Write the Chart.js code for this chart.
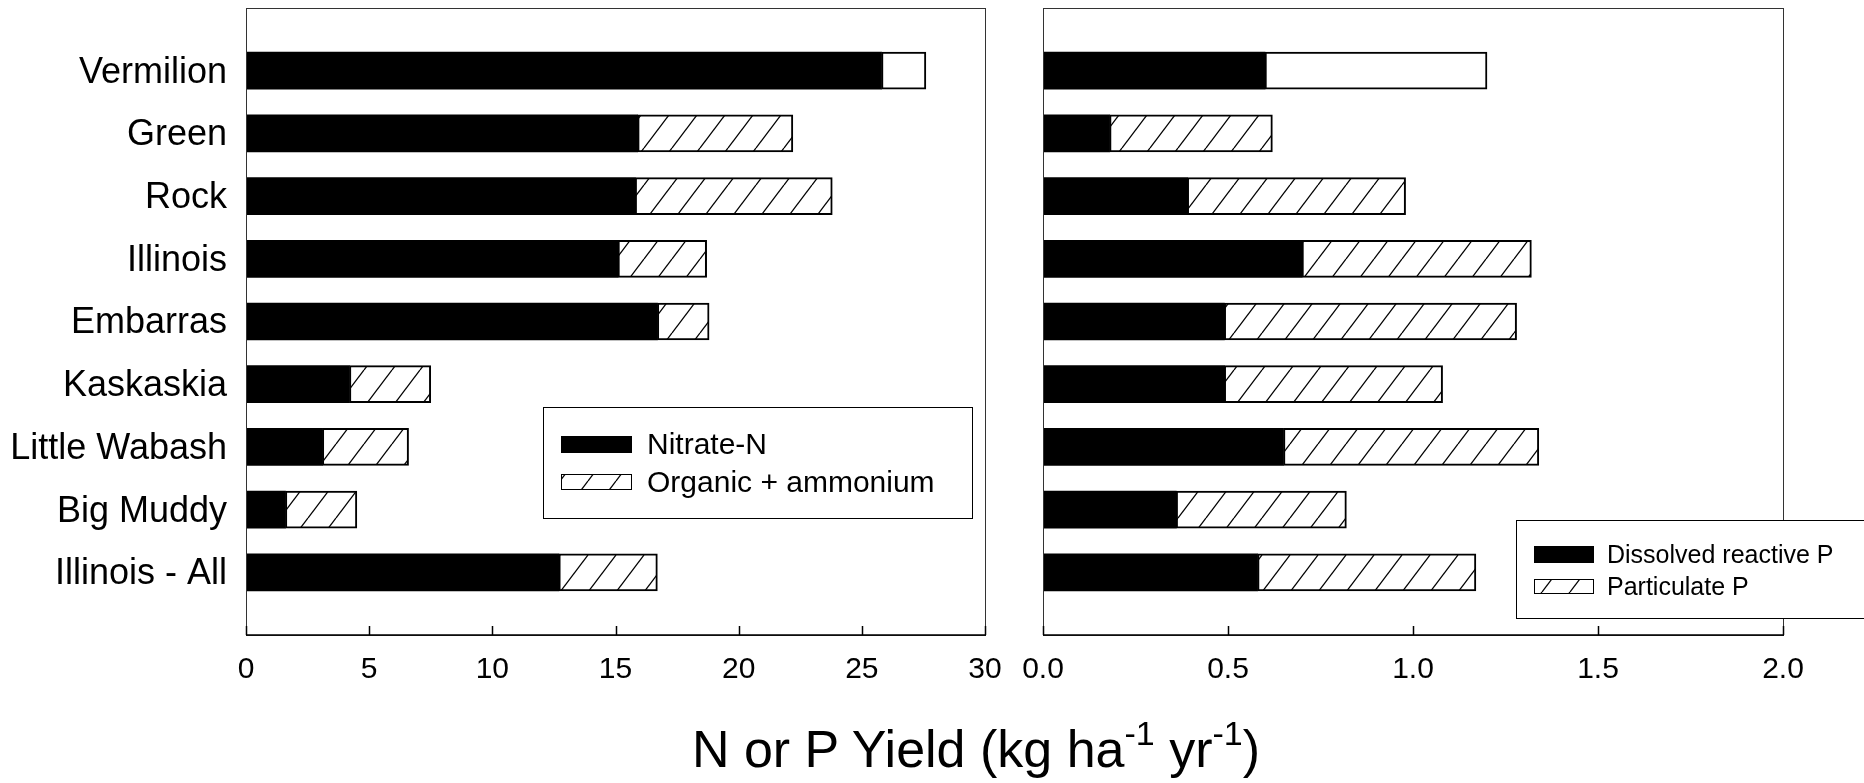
<!DOCTYPE html>
<html>
<head>
<meta charset="utf-8">
<script src="https://cdn.jsdelivr.net/npm/chart.js@4"></script>
<style>
    body { margin: 0; background: #fff; }
    #wrap { position: relative; width: 1864px; height: 783px; overflow: hidden; }
    #leftBox { position: absolute; left: 0; top: 0; width: 1010px; height: 783px; }
    #rightBox { position: absolute; left: 1010px; top: 0; width: 854px; height: 783px; }
    #title {
        position: absolute; left: 0; width: 1952px; top: 719px; text-align: center;
        font-family: "Liberation Sans", Arial, sans-serif; font-size: 52px; color: #000; white-space: nowrap;
    }
    #title sup { font-size: 34px; vertical-align: 0; position: relative; top: -22px; }
</style>
</head>
<body>
<div id="wrap">
    <div id="leftBox"><canvas id="chartN"></canvas></div>
    <div id="rightBox"><canvas id="chartP"></canvas></div>
    <div id="title">N or P Yield (kg ha<sup>-1</sup> yr<sup>-1</sup>)</div>
</div>
<script>
// Data
const categories = ['Vermilion', 'Green', 'Rock', 'Illinois', 'Embarras', 'Kaskaskia', 'Little Wabash', 'Big Muddy', 'Illinois - All'];
const nitrateN = [25.8, 15.9, 15.8, 15.1, 16.7, 4.2, 3.1, 1.6, 12.7];
const organicAmmonium = [1.8, 6.3, 8.0, 3.6, 2.1, 3.3, 3.5, 2.9, 4.0];
const dissolvedP = [0.60, 0.18, 0.39, 0.70, 0.49, 0.49, 0.65, 0.36, 0.58];
const particulateP = [0.60, 0.44, 0.59, 0.62, 0.79, 0.59, 0.69, 0.46, 0.59];
const nTicks = [0, 5, 10, 15, 20, 25, 30];
const pTicks = [0, 0.5, 1.0, 1.5, 2.0];

const FONT = '"Liberation Sans", Arial, sans-serif';

// blank slot above and below so the bars sit like in the original
const labels = [''].concat(categories, ['']);
function pad(arr) { return [null].concat(arr, [null]); }

// hatch tile "/"
const tile = document.createElement('canvas');
tile.width = 28;
tile.height = 37;
(function() {
    const g = tile.getContext('2d');
    g.fillStyle = '#fff';
    g.fillRect(0, 0, 28, 37);
    g.strokeStyle = '#000';
    g.lineWidth = 1.3;
    [-28, 0, 28].forEach(o => {
        g.beginPath();
        g.moveTo(o, 37);
        g.lineTo(o + 28, 0);
        g.stroke();
    });
})();

function hatchFor(chart) {
    if (!chart.$hatch) chart.$hatch = chart.ctx.createPattern(tile, 'repeat');
    return chart.$hatch;
}

function noPad(s) {
    s.paddingLeft = 0;
    s.paddingRight = 0;
    s.paddingTop = 0;
    s.paddingBottom = 0;
}

// frame, inward ticks and boxed legend
const framePlugin = {
    id: 'frame',
    afterDraw(chart, args, opts) {
        const ctx = chart.ctx;
        const a = chart.chartArea;
        const xs = chart.scales.x;
        ctx.save();
        ctx.strokeStyle = '#333';
        ctx.lineWidth = 1;
        ctx.strokeRect(a.left + 0.5, a.top + 0.5, a.right - a.left, a.bottom - a.top);
        ctx.strokeStyle = '#000';
        ctx.lineWidth = 1.5;
        ctx.beginPath();
        ctx.moveTo(a.left, a.bottom);
        ctx.lineTo(a.right + 1, a.bottom);
        xs.ticks.forEach(t => {
            const x = Math.round(xs.getPixelForValue(t.value)) + 0.5;
            ctx.moveTo(x, a.bottom);
            ctx.lineTo(x, a.bottom - 9);
        });
        ctx.stroke();

        // legend
        const L = opts.legend;
        ctx.fillStyle = '#fff';
        ctx.fillRect(L.x, L.y, L.w, L.h);
        ctx.strokeStyle = '#000';
        ctx.lineWidth = 1;
        ctx.strokeRect(L.x + 0.5, L.y + 0.5, L.w, L.h);
        ctx.font = L.font + 'px ' + FONT;
        ctx.textBaseline = 'alphabetic';
        chart.data.datasets.forEach((ds, i) => {
            const sw = L.swatches[i];
            ctx.fillStyle = i === 0 ? '#000' : hatchFor(chart);
            ctx.fillRect(L.x + L.sx, L.y + sw[0], L.sw, sw[1]);
            ctx.strokeStyle = '#000';
            ctx.strokeRect(L.x + L.sx + 0.5, L.y + sw[0] + 0.5, L.sw, sw[1]);
            ctx.fillStyle = '#000';
            ctx.fillText(ds.label, L.x + L.tx, L.y + L.baselines[i]);
        });
        ctx.restore();
    }
};

function makeChart(id, names, first, second, ticks, fmt, opts) {
    return new Chart(document.getElementById(id), {
        type: 'bar',
        data: {
            labels: labels,
            datasets: [{
                label: names[0],
                data: pad(first),
                backgroundColor: '#000',
                borderColor: '#000',
                borderWidth: 0,
                barThickness: 37
            }, {
                label: names[1],
                data: pad(second),
                backgroundColor: ctx => ctx.index === 1 ? '#fff' : hatchFor(ctx.chart),
                borderColor: '#000',
                borderWidth: 2,
                borderSkipped: false,
                barThickness: 37
            }]
        },
        options: {
            indexAxis: 'y',
            responsive: false,
            animation: false,
            events: [],
            layout: { padding: opts.padding },
            plugins: {
                legend: { display: false },
                tooltip: { enabled: false },
                frame: { legend: opts.legend }
            },
            scales: {
                x: {
                    type: 'linear',
                    stacked: true,
                    min: ticks[0],
                    max: ticks[ticks.length - 1],
                    afterBuildTicks: s => { s.ticks = ticks.map(v => ({ value: v })); },
                    afterFit: s => { s.height = 148; noPad(s); },
                    grid: { display: false, drawTicks: false },
                    border: { display: false },
                    ticks: {
                        color: '#000',
                        font: { family: FONT, size: 30 },
                        padding: 17,
                        maxRotation: 0,
                        autoSkip: false,
                        callback: v => fmt(v)
                    }
                },
                y: {
                    stacked: true,
                    offset: false,
                    display: opts.showY,
                    afterFit: s => { s.width = opts.yWidth; noPad(s); },
                    grid: { display: false, drawTicks: false },
                    border: { display: false },
                    ticks: {
                        color: '#000',
                        font: { family: FONT, size: 36 },
                        padding: 19,
                        labelOffset: 2,
                        autoSkip: false
                    }
                }
            }
        },
        plugins: [framePlugin]
    });
}

const cN = document.getElementById('chartN');
cN.width = 1010; cN.height = 783;
const cP = document.getElementById('chartP');
cP.width = 854; cP.height = 783;

makeChart('chartN', ['Nitrate-N', 'Organic + ammonium'], nitrateN, organicAmmonium, nTicks, v => String(v), {
    padding: { left: 0, right: 25, top: 8, bottom: 0 },
    showY: true,
    yWidth: 246,
    legend: { x: 543, y: 407, w: 429, h: 111, sx: 18, sw: 70, tx: 104, font: 30,
              swatches: [[29, 16], [67, 15]], baselines: [47, 85] }
});

makeChart('chartP', ['Dissolved reactive P', 'Particulate P'], dissolvedP, particulateP, pTicks, v => v.toFixed(1), {
    padding: { left: 33, right: 81, top: 8, bottom: 0 },
    showY: false,
    yWidth: 0,
    legend: { x: 506, y: 520, w: 348, h: 98, sx: 18, sw: 59, tx: 91, font: 25,
              swatches: [[26, 16], [59, 14]], baselines: [43, 75] }
});
</script>
</body>
</html>
